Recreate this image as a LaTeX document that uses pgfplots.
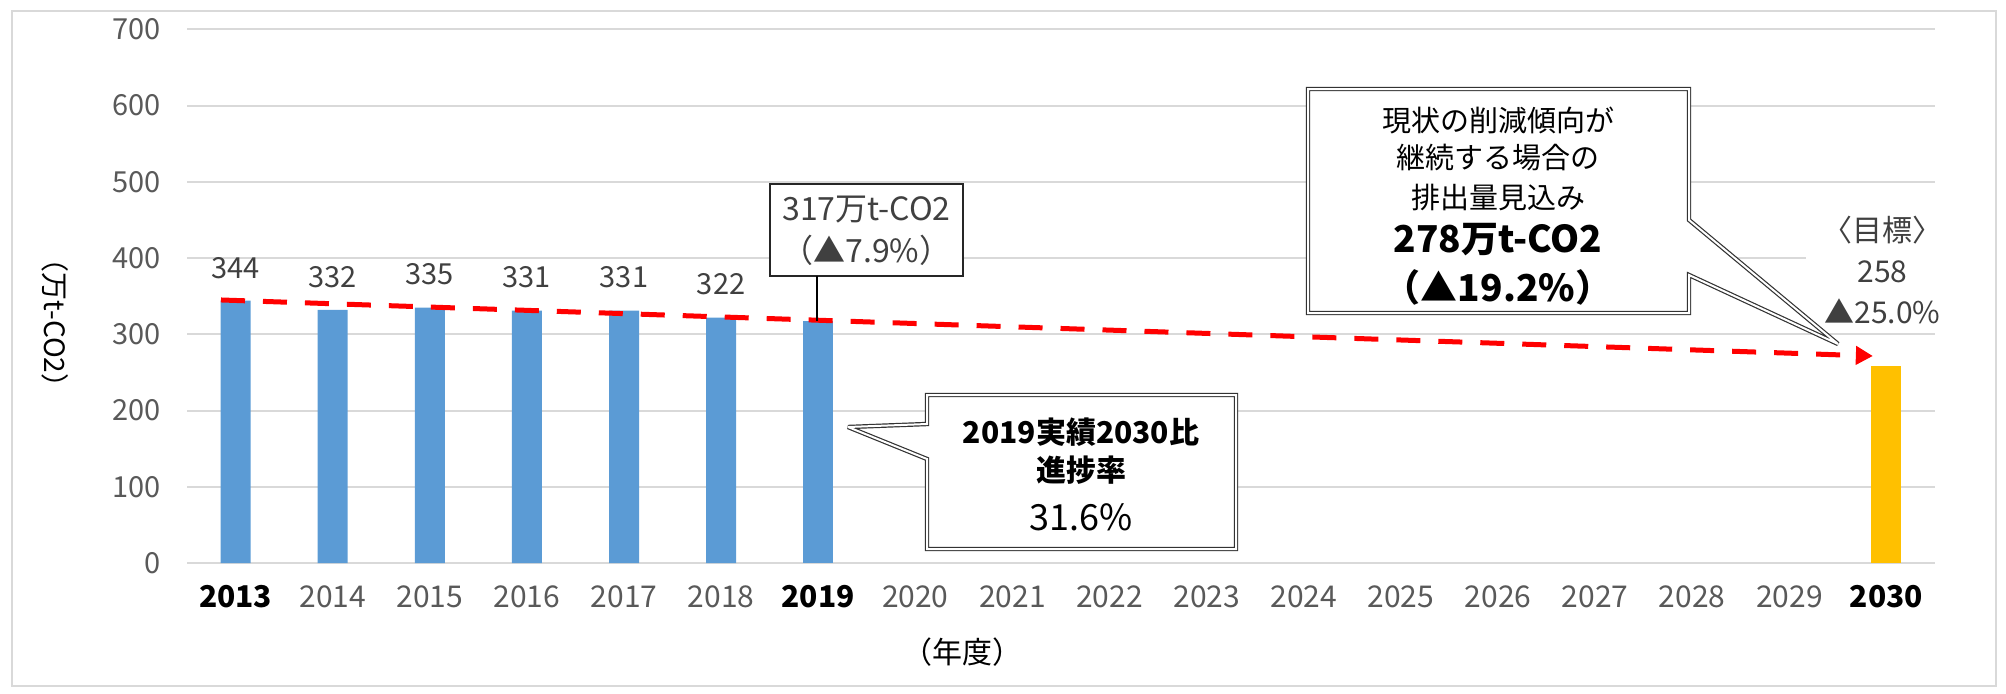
\documentclass[border=0pt]{standalone}
\usepackage{pgfplots}
\pgfplotsset{compat=1.18}
\usepackage{fontspec}
\setmainfont{Noto Sans CJK JP}
\usetikzlibrary{arrows.meta}
\definecolor{barblue}{HTML}{5B9BD5}
\definecolor{baryellow}{HTML}{FFC000}
\definecolor{gridgray}{HTML}{D9D9D9}
\definecolor{ticklbl}{HTML}{595959}
\definecolor{lbl}{HTML}{404040}
\newcommand{\fs}[1]{\fontsize{#1}{#1}\selectfont}
\begin{document}
\begin{tikzpicture}[px/.style={x=0.5pt,y=-0.5pt,shift={(0pt,346.5pt)}}]
\begin{scope}[px]
\useasboundingbox (0,0) rectangle (2006,693);
\draw[gridgray, line width=1pt] (12,11) rectangle (1996,686);
\end{scope}
\begin{axis}[
  at={(93.5pt,65pt)}, anchor=south west,
  scale only axis, width=874pt, height=266.85pt,
  xmin=-0.5, xmax=17.5, ymin=0, ymax=700,
  ytick={0,100,...,700},
  xtick={0,...,17},
  xticklabels={{\bfseries\color{black}2013},2014,2015,2016,2017,2018,{\bfseries\color{black}2019},2020,2021,2022,2023,2024,2025,2026,2027,2028,2029,{\bfseries\color{black}2030}},
  axis line style={draw=none},
  major tick length=0pt,
  ymajorgrids, grid style={draw=gridgray, line width=1pt},
  /pgf/number format/assume math mode=true,
  yticklabel style={font=\fs{14.5}, text=ticklbl, anchor=east, inner sep=0pt, xshift=-13pt},
  xticklabel style={font=\fs{15}, text=ticklbl, anchor=center, inner sep=0pt, yshift=-17pt},
  clip=false,
  bar width=15pt,
]
\addplot[ybar, bar shift=0pt, fill=barblue, draw=none,
  nodes near coords,
  every node near coord/.append style={anchor=center, yshift=16.5pt, font=\fs{14.5}, text=lbl}]
  coordinates {(0,344) (1,332) (2,335) (3,331) (4,331) (5,322)};
\addplot[ybar, bar shift=0pt, fill=barblue, draw=none] coordinates {(6,317)};
\addplot[ybar, bar shift=0pt, fill=baryellow, draw=none] coordinates {(17,258)};
\node[fill=white, inner xsep=8pt, inner ysep=2pt, align=center, text=lbl, font=\fontsize{15}{20.5}\selectfont, anchor=center]
  at (axis cs:17,258) [xshift=-2pt, yshift=48pt] {〈目標〉\\258\\▲25.0\%};
\addplot[red, line width=2.5pt, dash pattern=on 12pt off 9pt, -{Triangle[length=8.5pt,width=9pt]}]
  coordinates {(-0.15,345) (16.86,271.5)};
\end{axis}
\begin{scope}[px]
% y label and x label
\node[rotate=-90, font=\fs{14}] at (55,323) {（万t-CO2）};
\node[font=\fs{15}] at (962,652) {（年度）};
% callout 1
\draw[black!85, line width=0.8pt, fill=white] (770,184) rectangle (963,276);
\draw[black, line width=0.8pt] (817,276) -- (817,321);
\node[text=lbl, font=\fs{16}] at (866.5,210) {317万t-CO2};
\node[text=lbl, font=\fs{16}] at (866.5,250) {（▲7.9\%）};
% callout 2
\draw[black!80, line width=0.6pt, double=white, double distance=1pt, fill=white, miter limit=2]
  (927,395) -- (1236,395) -- (1236,549) -- (927,549) -- (927,459) -- (848,427) -- (927,424) -- cycle;
\node[font=\fs{15}\bfseries] at (1081,432) {2019実績2030比};
\node[font=\fs{15}\bfseries] at (1081,470) {進捗率};
\node[font=\fs{18}] at (1081,517) {31.6\%};
% callout 3
\draw[black!80, line width=0.6pt, double=white, double distance=1pt, fill=white, miter limit=2]
  (1308,89) -- (1689,89) -- (1689,220) -- (1838,344) -- (1689,275) -- (1689,313) -- (1308,313) -- cycle;
\node[font=\fs{14.5}] at (1498,120) {現状の削減傾向が};
\node[font=\fs{14.5}] at (1498,158) {継続する場合の};
\node[font=\fs{14.5}] at (1498,197) {排出量見込み};
\node[font=\fs{18.5}\bfseries] at (1498,240) {278万t-CO2};
\node[font=\fs{18.5}\bfseries] at (1498,287) {（▲19.2\%）};
\end{scope}
\end{tikzpicture}
\end{document}
